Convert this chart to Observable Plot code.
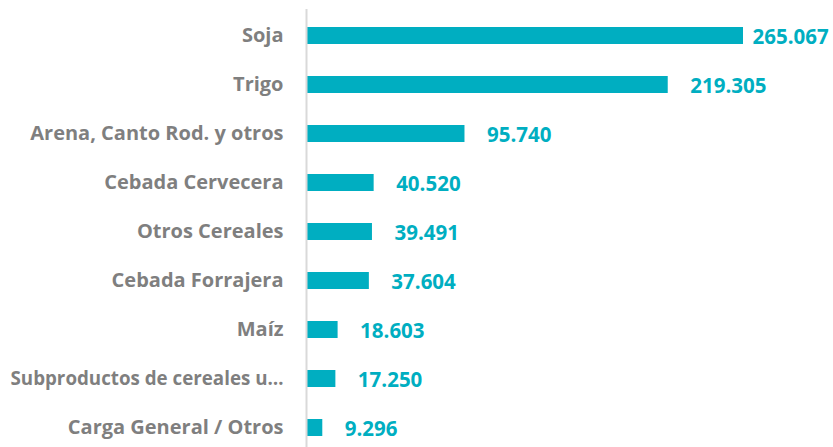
<!DOCTYPE html>
<html>
<head>
<meta charset="utf-8">
<script src="https://cdn.jsdelivr.net/npm/d3@7"></script>
<script src="https://cdn.jsdelivr.net/npm/@observablehq/plot@0.6"></script>
<style>
  html, body { margin: 0; padding: 0; background: #fff; }
  #chart svg { display: block; }
</style>
</head>
<body>
<div id="chart"></div>
<script>
const categories = [
  "Soja",
  "Trigo",
  "Arena, Canto Rod. y otros",
  "Cebada Cervecera",
  "Otros Cereales",
  "Cebada Forrajera",
  "Maíz",
  "Subproductos de cereales u…",
  "Carga General / Otros"
];
const values = [265067, 219305, 95740, 40520, 39491, 37604, 18603, 17250, 9296];

const data = categories.map((c, i) => ({category: c, value: values[i]}));
const fmt = d3.formatLocale({decimal: ",", thousands: ".", grouping: [3]}).format(",d");
const maxV = d3.max(values);

const teal = "#00AEC1";
const gray = "#7F7F7F";
const font = "'Open Sans', sans-serif";

const chart = Plot.plot({
  width: 833,
  height: 447,
  marginLeft: 307,
  marginRight: 90,
  marginTop: 9,
  marginBottom: 0,
  style: {fontFamily: font, background: "#fff"},
  x: {domain: [0, maxV], axis: null},
  y: {domain: categories, paddingInner: 0.6456, paddingOuter: 0.2583, align: 0.618, label: null},
  marks: [
    Plot.barX(data, {x: "value", y: "category", fill: teal}),
    Plot.ruleX([0], {stroke: "#D9D9D9", strokeWidth: 2, dx: -1}),
    Plot.axisY({tickSize: 0, tickPadding: 24, fontSize: 20, fontWeight: "bold", fill: gray, label: null}),
    Plot.text(data.filter(d => d.value === maxV), {x: "value", y: "category", text: d => fmt(d.value), textAnchor: "start", dx: 9, dy: 1, fill: teal, fontSize: 20.5, fontWeight: "bold"}),
    Plot.text(data.filter(d => d.value !== maxV), {x: "value", y: "category", text: d => fmt(d.value), textAnchor: "start", dx: 22, dy: 1, fill: teal, fontSize: 20.5, fontWeight: "bold"})
  ]
});
document.getElementById("chart").appendChild(chart);

// fit over-long category labels into the left margin, as the original does
const maxLabelWidth = 273;
chart.querySelectorAll("text").forEach(t => {
  if (categories.includes(t.textContent) && t.getComputedTextLength() > maxLabelWidth) {
    t.setAttribute("textLength", maxLabelWidth);
    t.setAttribute("lengthAdjust", "spacingAndGlyphs");
  }
});
</script>
</body>
</html>
